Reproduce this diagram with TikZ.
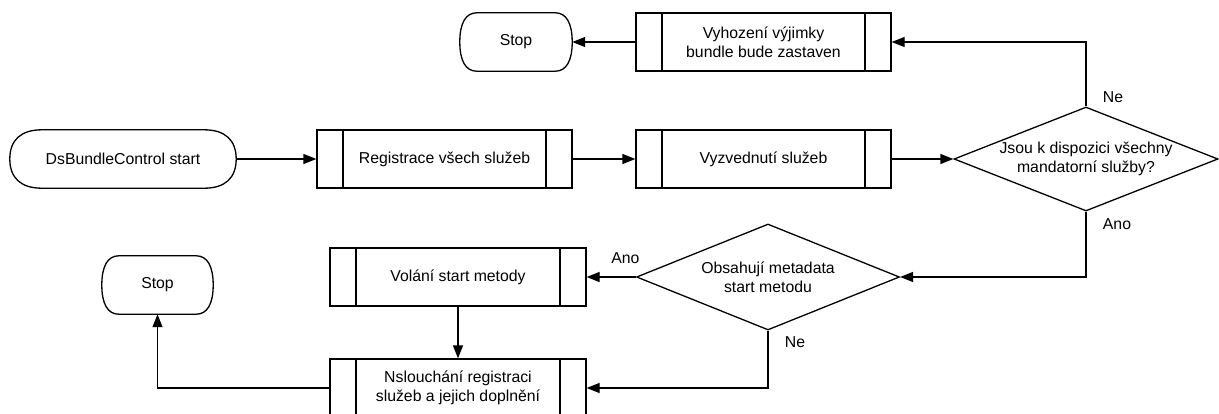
\documentclass[tikz,border=0pt]{standalone}
\usepackage{fontspec}
\setmainfont{Liberation Sans}
\usetikzlibrary{arrows.meta,shapes.geometric,calc}

\tikzset{
  base/.style={font=\fontsize{15.8}{19}\selectfont, align=center, inner sep=0pt},
  edge/.style={line width=1.3pt},
  flowline/.style={edge, -{Triangle[length=13pt,width=10pt]}},
  procbox/.style={base, draw, edge, minimum width=255pt, minimum height=58pt,
    path picture={\draw[edge]
      ([xshift=26pt]path picture bounding box.north west) -- ([xshift=26pt]path picture bounding box.south west)
      ([xshift=-26pt]path picture bounding box.north east) -- ([xshift=-26pt]path picture bounding box.south east);}},
  decision/.style={base, diamond, draw, edge, aspect=2.5, minimum width=264pt, minimum height=104pt},
  terminal/.style={base, minimum height=58pt},
  branch/.style={base},
}

% outline of a terminator node: straight top and bottom, rounded ends
\newcommand\termoutline[2]{%
  \draw[edge]
    ($(#1.north west)+(#2,0)$) -- ($(#1.north east)+(-#2,0)$)
    .. controls +(0.65*#2,0) and +(0,19) .. (#1.east)
    .. controls +(0,-19) and +(0.65*#2,0) .. ($(#1.south east)+(-#2,0)$)
    -- ($(#1.south west)+(#2,0)$)
    .. controls +(-0.65*#2,0) and +(0,-19) .. (#1.west)
    .. controls +(0,19) and +(-0.65*#2,0) .. ($(#1.north west)+(#2,0)$) -- cycle;}

\begin{document}
\begin{tikzpicture}[x=1pt,y=1pt]
  \useasboundingbox (0,0) rectangle (1219,-413);

  % terminators
  \node[terminal, minimum width=226pt] (ds) at (123,-159) {DsBundleControl start};
  \node[terminal, minimum width=112pt] (stop1) at (516,-42) {Stop};
  \node[terminal, minimum width=111pt] (stop2) at (157.5,-285) {Stop};
  \termoutline{ds}{32}
  \termoutline{stop1}{17}
  \termoutline{stop2}{17}

  % processes
  \node[procbox] (reg) at (444.5,-159) {Registrace všech služeb};
  \node[procbox] (vyz) at (763.5,-159) {Vyzvednutí služeb};
  \node[procbox] (vyh) at (763.5,-42) {Vyhození výjimky\\bundle bude zastaven};
  \node[procbox, minimum width=256pt] (vol) at (458,-277) {Volání start metody};
  \node[procbox, minimum width=256pt] (nsl) at (458,-388) {Nslouchání registraci\\služeb a jejich doplnění};

  % decisions
  \node[decision] (d1) at (1086,-159) {Jsou k dispozici všechny\\mandatorní služby?};
  \node[decision, minimum width=263pt, minimum height=106pt] (d2) at (768,-277) {Obsahují metadata\\start metodu};

  % flow
  \draw[flowline] (ds.east) -- (reg.west);
  \draw[flowline] (reg.east) -- (vyz.west);
  \draw[flowline] (vyz.east) -- (d1.west);
  \draw[flowline] (d1.north) |- (vyh.east);
  \draw[flowline] (vyh.west) -- (stop1.east);
  \draw[flowline] (d1.south) |- (d2.east);
  \draw[flowline] (d2.west) -- (vol.east);
  \draw[flowline] (d2.south) |- (nsl.east);
  \draw[flowline] (vol.south) -- (nsl.north);
  \draw[flowline] (nsl.west) -| (stop2.south);

  % branch labels
  \node[branch] (ne1) at ([shift={(27,9)}]d1.north) {Ne};
  \node[branch] (ano1) at ([shift={(31,-12)}]d1.south) {Ano};
  \node[branch] (ano2) at ([shift={(-10.5,19)}]d2.west) {Ano};
  \node[branch] (ne2) at ([shift={(27,-11)}]d2.south) {Ne};
\end{tikzpicture}
\end{document}
